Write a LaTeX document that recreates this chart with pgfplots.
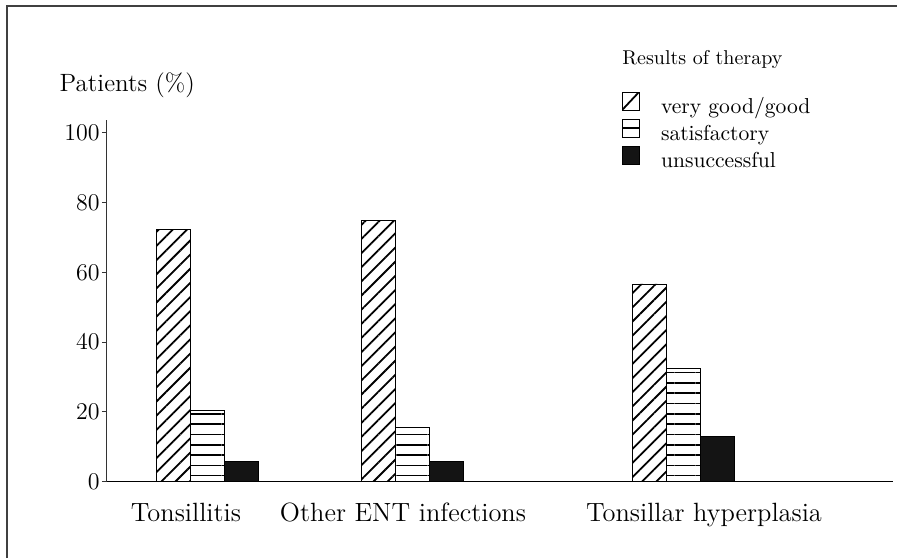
\documentclass[border=0pt]{standalone}
\usepackage{pgfplots}
\pgfplotsset{compat=1.18}
\usetikzlibrary{patterns.meta}

\begin{document}
\begin{tikzpicture}
\begin{axis}[
  scale only axis,
  width=393.5pt, height=180.85pt,
  xmin=106, xmax=893, ymin=0, ymax=103.7,
  axis x line*=bottom, axis y line*=left,
  axis line style={-},
  x axis line style={line width=0.7pt},
  y axis line style={line width=0.45pt, black!80},
  ytick={0,20,40,60,80,100},
  tick align=outside,
  major tick length=2pt,
  ytick style={line width=0.45pt, black!80},
  yticklabel style={font=\fontsize{12.7}{14}\selectfont, inner sep=1pt},
  xtick={186,403,704},
  xticklabels={Tonsillitis, Other ENT infections, Tonsillar hyperplasia},
  xtick style={draw=none},
  xticklabel style={anchor=base, yshift=-17.65pt, inner sep=0pt, font=\fontsize{13.2}{15}\selectfont},
  legend cell align=left,
  legend style={at={(axis cs:622,111.7)}, anchor=north west, draw=none, fill=none,
    inner sep=0pt, outer sep=0pt, row sep=0.5pt,
    font=\fontsize{10.8}{12}\selectfont,
    nodes={inner sep=0pt, text height=7.5pt, text depth=2.5pt}},
  clip=false,
]
\addplot[ybar, bar shift=0pt, bar width=34, draw=black, line width=0.4pt,
  pattern={Lines[angle=45,distance=5pt,line width=0.9pt]},
  legend image code/.code={
    \pgfpathrectangle{\pgfpoint{0pt}{-1pt}}{\pgfpoint{19.5pt}{9pt}}\pgfusepath{use as bounding box}
    \pgfsetstrokecolor{black}
    \pgfsetlinewidth{0.5pt}
    \pgfpathrectangle{\pgfpoint{0pt}{-1pt}}{\pgfpoint{8.5pt}{9pt}}\pgfusepath{stroke}
    \pgfsetlinewidth{0.9pt}
    \pgfpathmoveto{\pgfpoint{0.4pt}{-0.6pt}}\pgfpathlineto{\pgfpoint{8.1pt}{7.6pt}}\pgfusepath{stroke}}]
  coordinates {(173,72.4) (378,75.0) (649,56.7)};
\addlegendentry{very good/good}
\addplot[ybar, bar shift=0pt, bar width=34, draw=black, line width=0.5pt,
  pattern={Lines[angle=0,distance=5.15pt,line width=0.8pt]},
  legend image code/.code={
    \pgfpathrectangle{\pgfpoint{0pt}{-1pt}}{\pgfpoint{19.5pt}{9pt}}\pgfusepath{use as bounding box}
    \pgfsetstrokecolor{black}
    \pgfsetlinewidth{0.5pt}
    \pgfpathrectangle{\pgfpoint{0pt}{-1pt}}{\pgfpoint{8.5pt}{9pt}}\pgfusepath{stroke}
    \pgfsetlinewidth{0.8pt}
    \pgfpathmoveto{\pgfpoint{0pt}{3.5pt}}\pgfpathlineto{\pgfpoint{8.5pt}{3.5pt}}\pgfusepath{stroke}}]
  coordinates {(207,20.4) (412,15.6) (683,32.5)};
\addlegendentry{satisfactory}
\addplot[ybar, bar shift=0pt, bar width=34, draw=black, line width=0.5pt, fill=black!92,
  legend image code/.code={
    \pgfpathrectangle{\pgfpoint{0pt}{-1pt}}{\pgfpoint{19.5pt}{9pt}}\pgfusepath{use as bounding box}
    \pgfsetstrokecolor{black}
    \pgfsetfillcolor{black!92}
    \pgfsetlinewidth{0.5pt}
    \pgfpathrectangle{\pgfpoint{0pt}{-1pt}}{\pgfpoint{8.5pt}{9pt}}\pgfusepath{fill,stroke}}]
  coordinates {(241,5.7) (446,5.9) (717,13.1)};
\addlegendentry{unsuccessful}
\node[anchor=base west, inner sep=0pt, font=\fontsize{12.5}{14}\selectfont] at (axis cs:59.3,111.8) {Patients (\%)};
\node[anchor=base west, inner sep=0pt, font=\fontsize{10}{12}\selectfont] at (axis cs:622,119.5) {Results of therapy};
\end{axis}
\draw[line width=0.8pt, black!75] (-49.5pt,-38.15pt) -- (-49.5pt,237.85pt) -- (395.5pt,237.85pt);
\pgfresetboundingbox
\useasboundingbox (-53pt,-38.15pt) rectangle (395.5pt,240.85pt);
\end{tikzpicture}
\end{document}
